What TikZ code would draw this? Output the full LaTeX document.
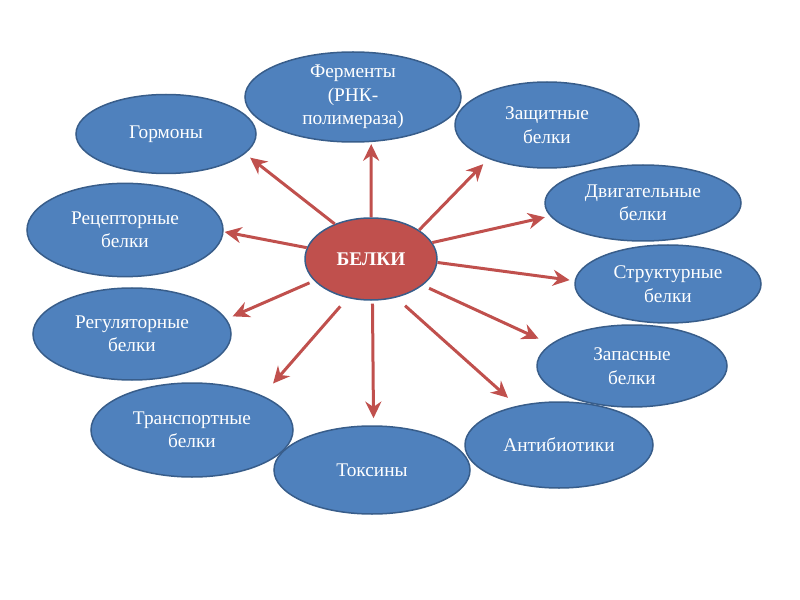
\documentclass[tikz,border=0pt]{standalone}
\usepackage{fontspec}
\setmainfont{Liberation Serif}
\usetikzlibrary{arrows.meta,shapes.geometric}
\definecolor{hubred}{HTML}{C0504D}
\definecolor{leafblue}{HTML}{4F81BD}
\definecolor{rimblue}{HTML}{385D8A}
\tikzset{
  >={Stealth[length=5mm,width=4.8mm]},
  leaf/.style={
    draw=rimblue, fill=leafblue, ellipse, line width=0.45mm, align=center,
    inner sep=0pt, text=white, font=\fontsize{16.5}{20}\selectfont
  },
  hub/.style={
    leaf, fill=hubred, font=\fontsize{16.5}{20}\selectfont\bfseries
  },
  ray/.style={->, draw=hubred, line width=0.9mm},
}
\begin{document}
\begin{tikzpicture}[x=0.3mm,y=-0.3mm]
  \useasboundingbox (0,0) rectangle (800,600);
  \node[leaf, minimum width=64.8mm, minimum height=27mm, inner ysep=-2.5mm] (ferm) at (353,97)
    {Ферменты\\(РНК-\\полимераза)};
  \node[leaf, minimum width=55.2mm, minimum height=25.8mm] (zasch) at (547,125) {Защитные\\белки};
  \node[leaf, minimum width=54mm, minimum height=23.7mm] (gorm) at (166,134) {Гормоны};
  \node[leaf, minimum width=58.8mm, minimum height=22.8mm] (dvig) at (643,203) {Двигательные\\белки};
  \node[leaf, minimum width=58.8mm, minimum height=28mm] (recep) at (125,230) {Рецепторные\\белки};
  \node[leaf, minimum width=55.8mm, minimum height=23.4mm] (struct) at (668,284) {Структурные\\белки};
  \node[leaf, minimum width=59.4mm, minimum height=27.6mm] (regul) at (132,334) {Регуляторные\\белки};
  \node[leaf, minimum width=57mm, minimum height=24.6mm] (zapas) at (632,366) {Запасные\\белки};
  \node[leaf, minimum width=60.6mm, minimum height=28.2mm] (transp) at (192,430) {Транспортные\\белки};
  \node[leaf, minimum width=58.8mm, minimum height=26.4mm] (toks) at (372,470) {Токсины};
  \node[leaf, minimum width=56.4mm, minimum height=25.8mm] (antib) at (559,445) {Антибиотики};
  \node[hub, minimum width=39.6mm, minimum height=24.6mm] (bel) at (371,259) {БЕЛКИ};

  \draw[ray, shorten >=0.6mm] (bel.90) -- (ferm.-68.6);
  \draw[ray, shorten >=2.2mm] (bel.31.7) -- (zasch.-150.4);
  \draw[ray, shorten >=1.9mm] (bel.136.6) -- (gorm.-14.8);
  \draw[ray, shorten >=1.6mm] (bel.15.6) -- (dvig.-172.4);
  \draw[ray, shorten >=0.3mm] (bel.170.5) -- (recep.-1.2);
  \draw[ray, shorten >=1.5mm] (bel.-3.4) -- (struct.178.8);
  \draw[ray, shorten <=1.5mm, shorten >=2mm] (bel.-159.3) -- (regul.9.1);
  \draw[ray, shorten <=2.1mm, shorten >=3.9mm] (bel.-27) -- (zapas.165.8);
  \draw[ray, shorten <=3.3mm, shorten >=4.8mm] (bel.-121.1) -- (transp.26.8);
  \draw[ray, shorten <=0.9mm, shorten >=2.1mm] (bel.-88) -- (toks.88);
  \draw[ray, shorten <=3.6mm, shorten >=3.6mm] (bel.-57.1) -- (antib.137.9);
\end{tikzpicture}
\end{document}
